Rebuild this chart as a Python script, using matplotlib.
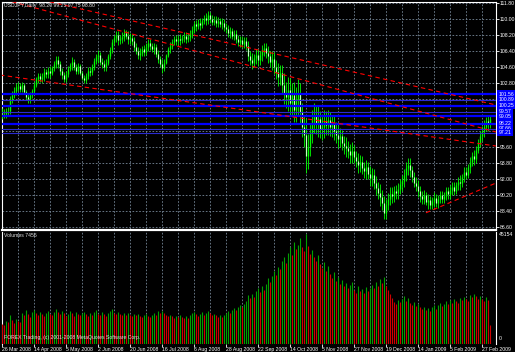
import matplotlib
matplotlib.use("Agg")
import matplotlib.pyplot as plt
import numpy as np

plt.rcParams["font.family"] = ["Liberation Sans", "DejaVu Sans"]

# ---------------- data ----------------
first_open = 99.40
closes = [
    99.35, 99.30, 99.60, 99.70, 100.90, 101.50, 101.90, 102.30, 102.50, 102.10,
    102.60, 101.80, 101.20, 101.00, 101.40, 101.90, 102.60, 103.20, 103.60, 103.30,
    103.50, 104.00, 103.80, 104.20, 103.90, 104.50, 104.90, 105.40, 104.90, 104.10,
    103.70, 103.30, 103.80, 104.40, 104.80, 105.20, 104.60, 104.20, 104.70, 103.90,
    103.40, 103.10, 103.60, 104.20, 104.00, 104.60, 105.30, 105.70, 105.90, 105.20,
    104.90, 104.60, 105.10, 105.80, 106.50, 107.40, 107.90, 108.20, 107.60, 107.80,
    108.00, 108.40, 108.10, 107.70, 107.90, 107.50, 106.90, 106.40, 105.90, 106.20,
    106.60, 106.30, 106.90, 107.30, 107.00, 106.60, 106.80, 106.10, 105.50, 104.90,
    104.50, 105.10, 105.90, 106.60, 107.00, 107.40, 107.70, 107.50, 107.80, 107.60,
    107.90, 108.10, 107.80, 108.00, 108.30, 108.80, 109.40, 109.20, 109.60, 109.30,
    109.80, 110.10, 109.90, 110.40, 110.00, 109.70, 109.90, 109.50, 109.80, 109.40,
    109.60, 109.10, 108.90, 108.40, 108.60, 108.10, 108.30, 107.80, 107.40, 107.60,
    107.20, 107.50, 107.00, 105.80, 105.40, 105.10, 105.60, 105.90, 105.40, 105.90,
    106.50, 106.70, 106.20, 105.80, 105.20, 105.50, 104.60, 104.00, 103.50, 103.90,
    102.60, 101.70, 101.20, 102.00, 100.60, 101.50, 99.80, 100.90, 101.60, 99.50,
    97.80, 96.90, 94.60, 95.60, 97.20, 98.60, 99.10, 98.30, 98.70, 97.60,
    97.90, 98.50, 98.10, 98.60, 97.80, 98.20, 97.40, 97.00, 96.50, 96.80,
    96.00, 95.70, 95.50, 95.10, 94.70, 95.20, 94.50, 94.00, 93.60, 93.90,
    93.20, 92.90, 93.30, 92.60, 92.10, 92.40, 91.60, 91.00, 90.40, 90.00,
    89.30, 88.20, 89.10, 89.80, 90.30, 90.10, 90.60, 90.40, 90.90, 91.40,
    91.80, 92.50, 93.20, 93.60, 93.00, 92.20, 91.60, 91.20, 90.60, 90.10,
    89.80, 90.20, 89.40, 89.60, 89.10, 89.50, 89.90, 89.30, 89.70, 90.20,
    89.80, 90.10, 90.60, 90.30, 90.80, 91.10, 90.70, 91.30, 91.70, 91.50,
    92.20, 92.80, 92.50, 93.30, 93.90, 94.60, 94.20, 95.30, 96.10, 96.80,
    97.40, 97.90, 98.50, 98.20, 98.80,
]
ranges = [
    1.2, 1.0, 1.1, 0.9, 2.0, 1.4, 1.2, 1.3, 1.0, 1.1,
    1.2, 1.3, 1.0, 1.1, 1.2, 1.0, 1.3, 1.2, 1.1, 1.0,
    1.1, 1.4, 1.0, 1.2, 1.3, 1.1, 1.2, 1.4, 1.3, 1.5,
    1.2, 1.1, 1.3, 1.2, 1.0, 1.4, 1.3, 1.1, 1.2, 1.3,
    1.1, 1.0, 1.2, 1.3, 1.1, 1.2, 1.3, 1.2, 1.4, 1.5,
    1.1, 1.2, 1.3, 1.2, 1.4, 1.5, 1.2, 1.3, 1.6, 1.1,
    1.2, 1.3, 1.0, 1.4, 1.2, 1.3, 1.5, 1.2, 1.4, 1.3,
    1.1, 1.2, 1.3, 1.4, 1.2, 1.1, 1.3, 1.5, 1.4, 1.2,
    1.6, 1.3, 1.2, 1.1, 1.3, 1.2, 1.0, 1.1, 1.2, 1.3,
    1.0, 1.1, 1.2, 1.0, 1.3, 1.4, 1.3, 1.2, 1.1, 1.3,
    1.2, 1.0, 1.3, 1.4, 1.2, 1.1, 1.0, 1.3, 1.2, 1.1,
    1.2, 1.3, 1.1, 1.4, 1.2, 1.3, 1.1, 1.5, 1.3, 1.2,
    1.4, 1.2, 1.5, 2.2, 1.6, 1.8, 1.5, 1.7, 1.9, 1.6,
    1.8, 1.5, 1.7, 2.0, 1.8, 2.1, 2.4, 2.2, 2.6, 2.3,
    3.2, 3.5, 3.0, 3.8, 4.2, 3.6, 4.5, 3.9, 4.1, 4.4,
    3.8, 3.5, 6.2, 4.0, 3.6, 3.8, 3.4, 3.2, 3.6, 3.0,
    2.8, 3.1, 2.6, 2.9, 2.7, 2.5, 2.8, 2.4, 2.6, 2.2,
    2.3, 2.0, 2.2, 1.9, 2.1, 2.4, 2.0, 1.8, 2.2, 1.9,
    2.0, 1.8, 2.1, 1.9, 2.2, 2.0, 2.3, 2.1, 1.9, 2.4,
    2.2, 2.6, 2.3, 1.9, 2.0, 1.7, 1.8, 1.6, 1.9, 1.7,
    1.8, 2.0, 2.2, 1.9, 2.1, 1.8, 1.7, 1.6, 1.9, 1.8,
    1.5, 1.6, 1.4, 1.7, 1.5, 1.3, 1.6, 1.4, 1.5, 1.3,
    1.4, 1.2, 1.5, 1.3, 1.6, 1.4, 1.5, 1.3, 1.4, 1.6,
    1.5, 1.7, 1.4, 1.6, 1.8, 1.5, 1.7, 1.9, 1.6, 1.8,
    1.7, 1.9, 1.6, 1.8, 1.5,
]
volumes = [
    8200, 7600, 9100, 8800, 11500, 9600, 8300, 10200, 9400, 8700,
    12500, 11800, 13600, 12200, 11000, 12900, 13800, 12400, 11600, 13100,
    12000, 11200, 12700, 13400, 12300, 11500, 12800, 14200, 13000, 12100,
    13500, 12600, 11400, 12200, 13200, 12500, 11300, 12900, 12100, 11600,
    12400, 13100, 12000, 11200, 12600, 11900, 12800, 13600, 12300, 11800,
    12900, 12100, 11400, 12500, 13300, 14100, 12700, 12000, 13000, 12200,
    11600, 12400, 11800, 12600, 11900, 11200, 12300, 11500, 12100, 11300,
    10800, 11600, 12200, 11400, 10900, 11700, 12500, 11800, 13200, 12400,
    13500, 12600, 11800, 11100, 11900, 11300, 10600, 11400, 10800, 11600,
    10900, 10400, 11200, 10600, 11500, 12400, 13100, 12000, 11400, 12200,
    12800, 11900, 12600, 13300, 12400, 11600, 12300, 11500, 10900, 11700,
    11000, 11800, 12500, 13400, 12600, 13800, 14500, 13600, 14900, 15600,
    14800, 16200, 17500, 19800, 18600, 20400, 19200, 21500, 22800, 21200,
    23500, 22100, 24600, 26800, 25300, 27900, 29600, 28100, 31200, 30400,
    33800, 35600, 32900, 37200, 39800, 36400, 41500, 38700, 40600, 43200,
    39500, 37800, 45154, 40200, 36900, 38400, 35600, 33800, 36200, 32500,
    30800, 33400, 29600, 31800, 28400, 26900, 29200, 25800, 27400, 24600,
    25900, 23400, 24800, 22600, 23900, 25200, 22100, 20800, 23400, 21600,
    22400, 20700, 23100, 21400, 22800, 24100, 22600, 25300, 23800, 26400,
    24900, 27200, 23600, 21800, 20400, 18600, 17200, 16400, 17800, 16900,
    18200, 19600, 17400, 18800, 16600, 15800, 17100, 15400, 16200, 14900,
    14200, 15100, 13800, 14600, 13500, 14800, 15600, 14300, 15900, 16800,
    15200, 16400, 17300, 16100, 17800, 16600, 18200, 17400, 16800, 18600,
    17900, 19200, 18400, 17600, 19800, 18900, 20400, 19300, 18100, 19500,
    18300, 17600, 19100, 17800, 7456,
]
price_ticks = [111.80, 110.00, 108.20, 106.40, 104.60, 102.80, 101.00, 99.20,
               97.40, 95.60, 93.80, 92.00, 90.20, 88.40, 86.60]
date_labels = ["26 Mar 2008", "14 Apr 2008", "5 May 2008", "2 Jun 2008",
               "20 Jun 2008", "16 Jul 2008", "6 Aug 2008", "28 Aug 2008",
               "22 Sep 2008", "14 Oct 2008", "5 Nov 2008", "27 Nov 2008",
               "19 Dec 2008", "14 Jan 2009", "5 Feb 2009", "27 Feb 2009"]
date_bars = [0, 16, 32, 48, 64, 80, 96, 112, 128, 144, 160, 176, 192, 208, 224, 240]
hlines_levels = [101.56, 100.89, 100.25, 99.57, 99.05, 98.22, 97.66, 97.21]
# trend lines: (bar0, price0, bar1, price1)
trend_lines = [
    (20, 112.14, 247, 100.33),
    (5, 111.95, 247, 97.29),
    (-1, 103.70, 247, 95.71),
    (212, 88.20, 247, 91.55),
]
vol_max_label = "45154"

# ---------------- layout helpers ----------------
W, H = 515, 352
FS = 3.7
fig = plt.figure(figsize=(W / 100, H / 100), dpi=100, facecolor="black")
fx = lambda x: x / W
fy = lambda y: 1 - y / H
L, R = 1.5, 496.0
MT, MB = 1.5, 229.0
VT, VB = 231.5, 343.5
ax = fig.add_axes([fx(L), fy(MB), fx(R) - fx(L), fy(MT) - fy(MB)])
axv = fig.add_axes([fx(L), fy(VB), fx(R) - fx(L), fy(VT) - fy(VB)])
for a in (ax, axv):
    a.set_facecolor("black")

n = len(closes)
x = np.arange(n)
c = np.array(closes)
o = np.r_[first_open, c[:-1]]
rg = np.array(ranges)
top = np.maximum(o, c)
bot = np.minimum(o, c)
extra = np.maximum(rg - (top - bot), 0)
hi = top + extra / 2
lo = bot - extra / 2

ax.set_xlim((L - 2) / 2, (R - 2) / 2)
ax.set_ylim(111.8 - (MB - 3) * 0.1125, 111.8 - (MT - 3) * 0.1125)
axv.set_xlim((L - 2) / 2, (R - 2) / 2)
vmax = max(volumes)
axv.set_ylim(0, vmax * (VB - VT) / (VB - 233.5))

grid_kw = dict(color="#778899", lw=0.6, linestyles=(0, (2, 2)), zorder=0)
gx = np.arange(8, 247, 8)
ax.vlines(gx, *ax.get_ylim(), **grid_kw)
axv.vlines(gx, *axv.get_ylim(), **grid_kw)
ax.hlines(price_ticks, *ax.get_xlim(), **grid_kw)

# candles
ax.vlines(x, lo, hi, color="#00ff00", lw=0.6, zorder=3)
bull = c >= o
ax.vlines(x[bull], o[bull], c[bull], color="#00ff00", lw=1.0, zorder=3)
ax.vlines(x[~bull], c[~bull], o[~bull], color="#00ff00", lw=1.0, zorder=3)
ax.vlines(x[~bull], c[~bull], o[~bull], color="white", lw=0.55, zorder=4)

# horizontal lines
blue_widths = [1.6, 0.8, 1.6, 0.8, 1.6, 1.6, 0.8, 0.8]
for lev, w in zip(hlines_levels, blue_widths):
    ax.axhline(lev, color="#0000ff" if w > 1 else "#2a2ad0", lw=w, zorder=5)

# trend lines
for b0, p0, b1, p1 in trend_lines:
    ax.plot([b0, b1], [p0, p1], color="#ff0000", lw=0.8, dashes=(4, 3), zorder=6)

# volumes
vol = np.array(volumes)
vcol = ["#00a000" if (i > 0 and vol[i] > vol[i - 1]) else "#d00000" for i in range(n)]
axv.vlines(x, 0, vol, colors=vcol, lw=0.8, zorder=3)

# axes cosmetics
for a in (ax, axv):
    for s in a.spines.values():
        s.set_visible(False)
for s in ("left", "top", "right"):
    ax.spines[s].set_visible(True)
    ax.spines[s].set_color("white")
    ax.spines[s].set_linewidth(0.8)
for s in ("left", "right"):
    axv.spines[s].set_visible(True)
    axv.spines[s].set_color("white")
    axv.spines[s].set_linewidth(0.8)
axv.hlines([0], *axv.get_xlim(), color="#c0c0c0", lw=0.7, linestyles=(0, (2, 2)), zorder=6)

ax.set_xticks([])
ax.yaxis.tick_right()
ax.set_yticks(price_ticks)
ax.set_yticklabels(["%.2f" % t for t in price_ticks])
ax.tick_params(axis="y", colors="white", labelsize=FS, length=2.0, width=0.6, pad=0.8)

axv.set_yticks([])
axv.set_xticks(date_bars)
axv.set_xticklabels(date_labels)
axv.tick_params(axis="x", colors="white", labelsize=FS, length=2, width=0.6, pad=0.6)
for lab in axv.get_xticklabels():
    lab.set_ha("left")

# separator
fig.add_artist(plt.Line2D([fx(L), fx(R)], [fy(230.2), fy(230.2)], color="white", lw=1.6))

# blue price labels
def py(p):
    return 3 + (111.8 - p) / 0.1125
for lev in hlines_levels:
    fig.text(fx(498.5), fy(py(lev)), "%.2f" % lev, fontsize=FS, color="white",
             va="center", ha="left", zorder=10,
             bbox=dict(boxstyle="square,pad=0.25", fc="#0000ff", ec="none"))

# texts
fig.text(fx(4), fy(3), "USDJPY,Daily  98.20 99.25 97.75 98.80", fontsize=FS,
         color="#e0e0e0", va="top", ha="left")
fig.text(fx(4), fy(233), "Volumes 7456", fontsize=FS, color="#e0e0e0", va="top", ha="left")
fig.text(fx(4), fy(338), "FOREX Trading, (c) 2001-2008 MetaQuotes Software Corp.",
         fontsize=FS, color="#e0e0e0", va="center", ha="left", zorder=10)
fig.text(fx(498.5), fy(234), vol_max_label, fontsize=FS, color="white", va="center", ha="left")
fig.text(fx(498.5), fy(339), "0", fontsize=FS, color="white", va="center", ha="left")

fig.savefig("out.png", dpi=100, facecolor="black")
